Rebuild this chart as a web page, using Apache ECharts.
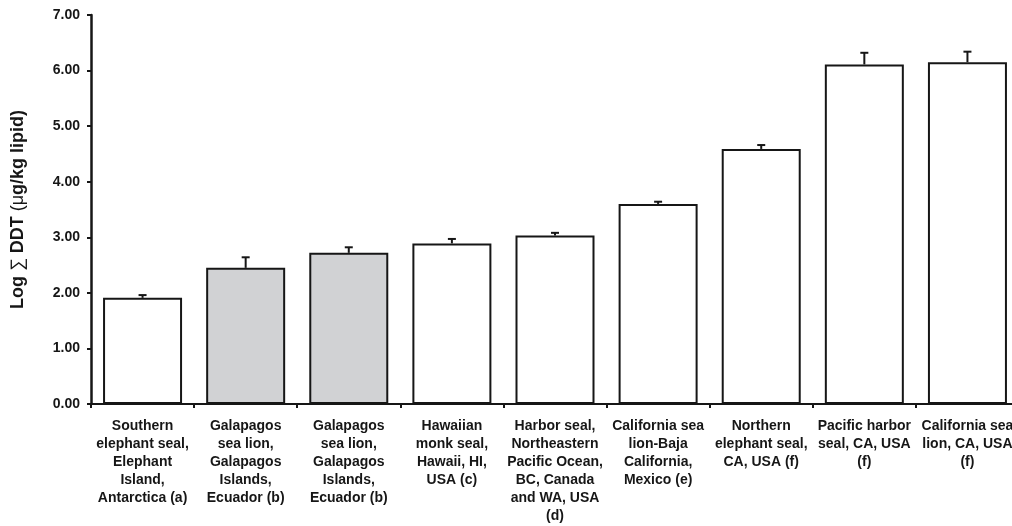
<!DOCTYPE html>
<html>
<head>
<meta charset="utf-8">
<script src="https://cdn.jsdelivr.net/npm/echarts@6/dist/echarts.min.js"></script>
<style>
  html, body { margin: 0; padding: 0; background: #ffffff; overflow: hidden; }
  /* the plot area runs a few pixels past the right edge of the page */
  #chart { width: 1019px; height: 526px; }
</style>
</head>
<body>
<div id="chart"></div>
<script>
// Populations sampled (species, location, source)
const categories = [
  'Southern\nelephant seal,\nElephant\nIsland,\nAntarctica (a)',
  'Galapagos\nsea lion,\nGalapagos\nIslands,\nEcuador (b)',
  'Galapagos\nsea lion,\nGalapagos\nIslands,\nEcuador (b)',
  'Hawaiian\nmonk seal,\nHawaii, HI,\nUSA (c)',
  'Harbor seal,\nNortheastern\nPacific Ocean,\nBC, Canada\nand WA, USA\n(d)',
  'California sea\nlion-Baja\nCalifornia,\nMexico (e)',
  'Northern\nelephant seal,\nCA, USA (f)',
  'Pacific harbor\nseal, CA, USA\n(f)',
  'California sea\nlion, CA, USA\n(f)'
];

// Mean log ΣDDT (µg/kg lipid) and upper error
const meanValues  = [1.91, 2.45, 2.72, 2.89, 3.03, 3.60, 4.59, 6.11, 6.15];
const errorValues = [0.05, 0.19, 0.10, 0.08, 0.05, 0.04, 0.07, 0.21, 0.19];

// Galapagos populations are shaded
const shadedBars = [false, true, true, false, false, false, false, false, false];

// Value axis
const yMin = 0;
const yMax = 7;
const yStep = 1;

const INK = '#161616';
const FONT = '"Liberation Sans", Arial, Helvetica, sans-serif';

const chart = echarts.init(document.getElementById('chart'), null, { renderer: 'canvas' });

chart.setOption({
  animation: false,
  backgroundColor: '#ffffff',
  grid: { left: 91, top: 15, right: 0, height: 389, containLabel: false },
  xAxis: {
    type: 'category',
    data: categories,
    boundaryGap: true,
    axisLine: { show: true, lineStyle: { color: INK, width: 2 } },
    axisTick: { show: true, length: 4, lineStyle: { color: INK, width: 2 } },
    axisLabel: {
      interval: 0,
      margin: 13,
      color: INK,
      fontFamily: FONT,
      fontWeight: 'bold',
      fontSize: 14,
      lineHeight: 18,
      align: 'center'
    },
    splitLine: { show: false }
  },
  yAxis: {
    type: 'value',
    min: yMin,
    max: yMax,
    interval: yStep,
    name: '{b|Log }{n|\u2211 }{b|DDT }{n|(\u03bc}{b|g/kg lipid)}',
    nameLocation: 'middle',
    nameRotate: 90,
    nameGap: 64,
    nameTextStyle: {
      rich: {
        b: { fontFamily: FONT, fontWeight: 'bold', fontSize: 18, color: INK },
        n: { fontFamily: FONT, fontWeight: 'normal', fontSize: 18, color: INK }
      }
    },
    axisLine: { show: true, lineStyle: { color: INK, width: 2.5 } },
    axisTick: { show: true, length: 4, lineStyle: { color: INK, width: 2 } },
    axisLabel: {
      margin: 11,
      color: INK,
      fontFamily: FONT,
      fontWeight: 'bold',
      fontSize: 14,
      formatter: v => v.toFixed(2)
    },
    splitLine: { show: false }
  },
  series: [
    {
      type: 'bar',
      barWidth: 79,
      data: meanValues.map((v, i) => ({
        value: v,
        itemStyle: {
          color: shadedBars[i] ? '#d1d2d4' : '#ffffff',
          borderColor: INK,
          borderWidth: 2
        }
      })),
      z: 2
    },
    {
      type: 'custom',
      z: 3,
      data: meanValues.map((v, i) => [i, v, errorValues[i]]),
      renderItem: function (params, api) {
        const idx = api.value(0);
        const base = api.coord([idx, api.value(1)]);
        const top = api.coord([idx, api.value(1) + api.value(2)]);
        const style = { stroke: INK, lineWidth: 2 };
        return {
          type: 'group',
          children: [
            { type: 'line', shape: { x1: base[0], y1: base[1], x2: top[0], y2: top[1] }, style: style },
            { type: 'line', shape: { x1: top[0] - 4, y1: top[1], x2: top[0] + 4, y2: top[1] }, style: style }
          ]
        };
      }
    }
  ]
});
</script>
</body>
</html>
